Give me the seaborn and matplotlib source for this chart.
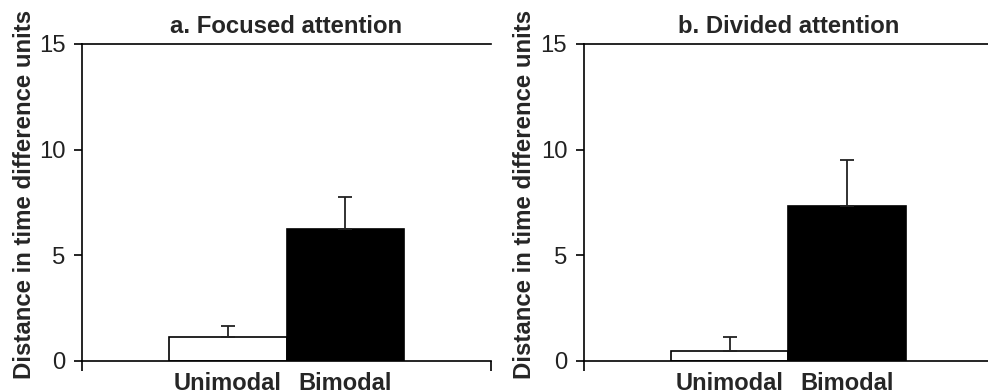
import matplotlib
matplotlib.use('Agg')
import matplotlib.pyplot as plt
import seaborn as sns

# values
conditions = ['Unimodal', 'Bimodal']
focused_means = [1.12, 6.26]
focused_err = [0.52, 1.50]
divided_means = [0.47, 7.32]
divided_err = [0.65, 2.19]
titles = ['a. Focused attention', 'b. Divided attention']

sns.set_style('white')
plt.rcParams['font.family'] = ['Liberation Sans', 'DejaVu Sans']

fig = plt.figure(figsize=(9.88, 3.9), dpi=100)
ax_a = fig.add_axes([0.083, 0.0744, 0.414, 0.813])
ax_b = fig.add_axes([0.591, 0.0744, 0.414, 0.813])

panels = [(ax_a, focused_means, focused_err, titles[0], -0.112),
          (ax_b, divided_means, divided_err, titles[1], -0.118)]

for ax, means, errs, title, label_x in panels:
    sns.barplot(x=conditions, y=means, hue=conditions, palette=['white', 'black'],
                edgecolor='black', linewidth=1.2, width=1.0, errorbar=None,
                legend=False, ax=ax)
    ax.errorbar(x=[0, 1], y=means, yerr=[[0, 0], errs], fmt='none',
                ecolor='#222222', elinewidth=1.3, capsize=5, capthick=1.3, zorder=3)

    ax.set_xlim(-1.24, 2.24)
    ax.set_ylim(0, 15)
    ax.set_yticks([0, 5, 10, 15])
    ax.set_yticklabels(['0', '5', '10', '15'], fontsize=17.2, color='#222222')
    ax.tick_params(axis='y', direction='out', length=6, width=1.2, color='black',
                   left=True, pad=6)

    # category labels sit under the bars, tick marks only at the group edges
    ax.set_xticks([0, 1])
    ax.set_xticklabels(conditions, fontsize=17, fontweight='bold')
    ax.tick_params(axis='x', which='major', length=0, pad=8)
    ax.set_xticks([-1.24, 2.24], minor=True)
    ax.tick_params(axis='x', which='minor', direction='out', length=7, width=1.2,
                   color='black', bottom=True)

    for side in ['left', 'bottom', 'top']:
        ax.spines[side].set_visible(True)
        ax.spines[side].set_color('black')
        ax.spines[side].set_linewidth(1.2)
    ax.spines['right'].set_visible(False)

    ax.set_xlabel('')
    ax.set_ylabel('Distance in time difference units', fontsize=17.3,
                  fontweight='bold')
    ax.yaxis.set_label_coords(label_x, 0.524)
    ax.set_title(title, fontsize=17.2, fontweight='bold', pad=8)

fig.savefig('out.png', dpi=100)
